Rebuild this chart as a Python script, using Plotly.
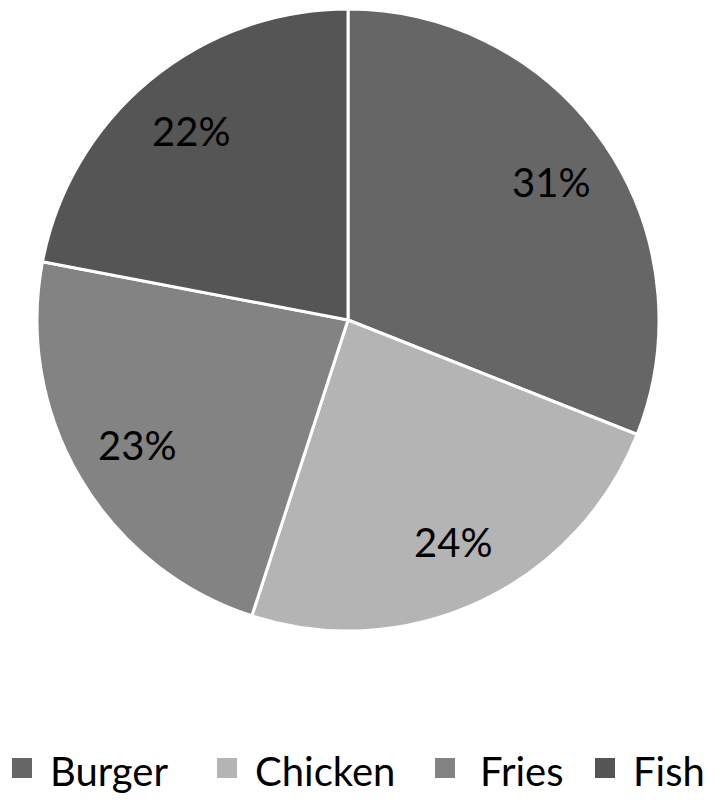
import math
import plotly.graph_objects as go

categories = ["Burger", "Chicken", "Fries", "Fish"]
shares = [31, 24, 23, 22]
slice_colors = ["#666666", "#b4b4b4", "#838383", "#555555"]

W, H = 720, 806
OFF = 8  # page body margin shifts the figure by 8px
FONT = "Lato, Open Sans, sans-serif"


def px(x):
    return (x - OFF) / W


def py(y):
    return 1 - (y - OFF) / H


# pie geometry in page pixels
cx, cy, r = 348, 320, 311

fig = go.Figure()

fig.add_trace(go.Pie(
    labels=categories,
    values=shares,
    sort=False,
    direction="clockwise",
    rotation=0,
    marker=dict(colors=slice_colors, line=dict(color="white", width=3)),
    textinfo="none",
    domain=dict(x=[px(cx - r), px(cx + r)], y=[py(cy + r), py(cy - r)]),
    hoverinfo="label+percent",
    showlegend=False,
))

# percentage labels placed along each slice's bisector
total = sum(shares)
start = 0.0
for cat, v in zip(categories, shares):
    mid = (start + v / 2) / total * 2 * math.pi
    start += v
    lx = cx + 0.79 * r * math.sin(mid)
    ly = cy - 0.79 * r * math.cos(mid)
    fig.add_annotation(
        x=px(lx), y=py(ly), xref="paper", yref="paper",
        xanchor="center", yanchor="middle",
        text=f"{round(v / total * 100)}%", showarrow=False,
        font=dict(family=FONT, size=40, color="black"),
    )

# legend drawn by hand: square + label
legend_sq_x = [12, 217, 435, 595]
legend_txt_x = [48, 253, 478, 631]
for cat, col, sx, tx in zip(categories, slice_colors, legend_sq_x, legend_txt_x):
    fig.add_shape(
        type="rect", xref="paper", yref="paper",
        x0=px(sx), x1=px(sx + 20), y0=py(778), y1=py(758),
        fillcolor=col, line=dict(width=0),
    )
    fig.add_annotation(
        x=px(tx), y=py(771), xref="paper", yref="paper",
        xanchor="left", yanchor="middle",
        text=cat, showarrow=False,
        font=dict(family=FONT, size=40, color="black"),
    )

fig.update_layout(
    width=W,
    height=H,
    margin=dict(l=0, r=0, t=0, b=0),
    paper_bgcolor="white",
    plot_bgcolor="white",
    font=dict(family=FONT, color="black"),
    showlegend=False,
)

fig.write_html("out.html")
